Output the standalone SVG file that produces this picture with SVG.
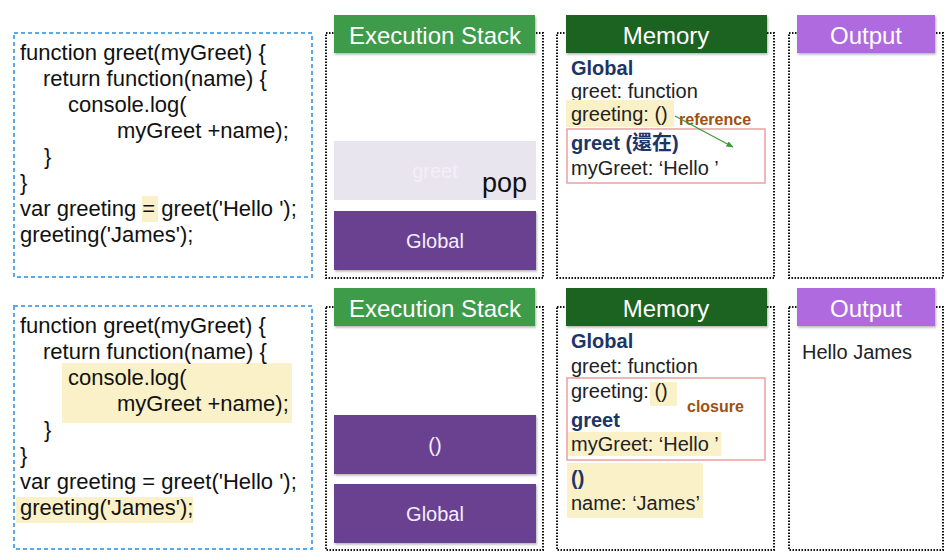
<svg xmlns="http://www.w3.org/2000/svg" width="950" height="560" viewBox="0 0 950 560">
<style>
text{font-family:"Liberation Sans",Arial,"Noto Sans CJK TC",sans-serif;}
.code{font-size:22px;fill:#111;}
.codebox{fill:#fff;stroke:#5aaaea;stroke-width:2;stroke-dasharray:4 3;}
.panel{fill:#fff;stroke:#111;stroke-width:2;stroke-dasharray:1.5 1.5;}
.hdr{font-size:24px;fill:#fff;text-anchor:middle;}
.stk{fill:#6a3f91;}
.stkt{font-size:20px;fill:#f4eefa;text-anchor:middle;}
.mem{font-size:20px;fill:#222;}
.memb{font-size:20px;fill:#1b3566;font-weight:bold;}
.hl{fill:#fbf1c9;}
.note{font-size:16px;fill:#a0500f;font-weight:bold;}
.frame{fill:none;stroke:#eba0a0;stroke-width:1.5;}
</style>
<defs>
<filter id="sh" x="-5%" y="-5%" width="115%" height="130%"><feDropShadow dx="1" dy="1.5" stdDeviation="1" flood-opacity="0.3"/></filter>
<marker id="ah" viewBox="0 0 10 10" refX="9" refY="5" markerWidth="6" markerHeight="6" orient="auto"><path d="M0,1 L10,5 L0,9 z" fill="#3a9b35"/></marker>
</defs>

<!-- TOP ROW -->
<g id="code1">
<rect class="codebox" x="14" y="33" width="298" height="244"/>
<rect class="hl" x="142" y="196" width="16" height="26"/>
<text class="code" x="20" y="60">function greet(myGreet) {</text>
<text class="code" x="43" y="86">return function(name) {</text>
<text class="code" x="68" y="112">console.log(</text>
<text class="code" x="117" y="138">myGreet +name);</text>
<text class="code" x="44" y="164">}</text>
<text class="code" x="20" y="190">}</text>
<text class="code" x="20" y="216">var greeting = greet('Hello ');</text>
<text class="code" x="20" y="242">greeting('James');</text>
</g>

<g id="stack1">
<rect class="panel" x="326" y="33" width="217" height="245"/>
<rect x="334" y="15" width="201" height="38" fill="#3c9b48" filter="url(#sh)"/>
<text class="hdr" x="435" y="44">Execution Stack</text>
<rect x="334" y="141" width="202" height="59" fill="#e9e5ef"/>
<text class="stkt" x="435" y="178" fill="#fff">greet</text>
<text x="482" y="192" font-size="27" fill="#111">pop</text>
<rect class="stk" x="334" y="211" width="202" height="59" filter="url(#sh)"/>
<text class="stkt" x="435" y="248">Global</text>
</g>

<g id="memory1">
<rect class="panel" x="557" y="33" width="217" height="245"/>
<rect x="566" y="15" width="201" height="38" fill="#1b6322" filter="url(#sh)"/>
<text class="hdr" x="666" y="44">Memory</text>
<text class="memb" x="571" y="75">Global</text>
<text class="mem" x="571" y="98">greet: function</text>
<rect class="hl" x="566" y="100" width="108" height="27"/>
<text class="mem" x="571" y="121">greeting: ()</text>
<text class="note" x="679" y="125">reference</text>
<rect class="frame" x="567" y="129" width="198" height="54"/>
<text class="memb" x="571" y="150">greet (還在)</text>
<text class="mem" x="571" y="175">myGreet: ‘Hello ’</text>
</g>

<g id="output1">
<rect class="panel" x="789" y="33" width="154" height="245"/>
<rect x="797" y="15" width="138" height="38" fill="#b06ae0" filter="url(#sh)"/>
<text class="hdr" x="866" y="44">Output</text>
</g>

<g id="connectors">
<line x1="675" y1="116" x2="733" y2="147" stroke="#3a9b35" stroke-width="1.2" marker-end="url(#ah)"/>
</g>

<!-- BOTTOM ROW -->
<g id="code2">
<rect class="codebox" x="14" y="306" width="298" height="243"/>
<rect class="hl" x="62" y="363" width="230" height="60"/>
<rect class="hl" x="16" y="497" width="177" height="26"/>
<text class="code" x="20" y="333">function greet(myGreet) {</text>
<text class="code" x="43" y="359">return function(name) {</text>
<text class="code" x="68" y="385">console.log(</text>
<text class="code" x="117" y="411">myGreet +name);</text>
<text class="code" x="44" y="437">}</text>
<text class="code" x="20" y="463">}</text>
<text class="code" x="20" y="489">var greeting = greet('Hello ');</text>
<text class="code" x="20" y="515">greeting('James');</text>
</g>

<g id="stack2">
<rect class="panel" x="326" y="307" width="217" height="243"/>
<rect x="334" y="288" width="201" height="38" fill="#3c9b48" filter="url(#sh)"/>
<text class="hdr" x="435" y="317">Execution Stack</text>
<rect class="stk" x="334" y="415" width="202" height="59" filter="url(#sh)"/>
<text class="stkt" x="435" y="452">()</text>
<rect class="stk" x="334" y="484" width="202" height="59" filter="url(#sh)"/>
<text class="stkt" x="435" y="521">Global</text>
</g>

<g id="memory2">
<rect class="panel" x="557" y="307" width="217" height="243"/>
<rect x="566" y="288" width="201" height="38" fill="#1b6322" filter="url(#sh)"/>
<text class="hdr" x="666" y="317">Memory</text>
<text class="memb" x="571" y="348">Global</text>
<text class="mem" x="571" y="373">greet: function</text>
<rect class="hl" x="650" y="382" width="27" height="24"/>
<rect class="hl" x="567" y="432" width="154" height="24"/>
<rect class="hl" x="567" y="463" width="136" height="55"/>
<rect class="frame" x="567" y="378" width="198" height="82"/>
<text class="mem" x="571" y="398">greeting: ()</text>
<text class="note" x="687" y="412">closure</text>
<text class="memb" x="571" y="427">greet</text>
<text class="mem" x="571" y="451">myGreet: ‘Hello ’</text>
<text class="memb" x="571" y="485">()</text>
<text class="mem" x="571" y="510">name: ‘James’</text>
</g>

<g id="output2">
<rect class="panel" x="789" y="307" width="154" height="243"/>
<rect x="797" y="288" width="138" height="38" fill="#b06ae0" filter="url(#sh)"/>
<text class="hdr" x="866" y="317">Output</text>
<text class="mem" x="802" y="359" fill="#111">Hello James</text>
</g>
</svg>
